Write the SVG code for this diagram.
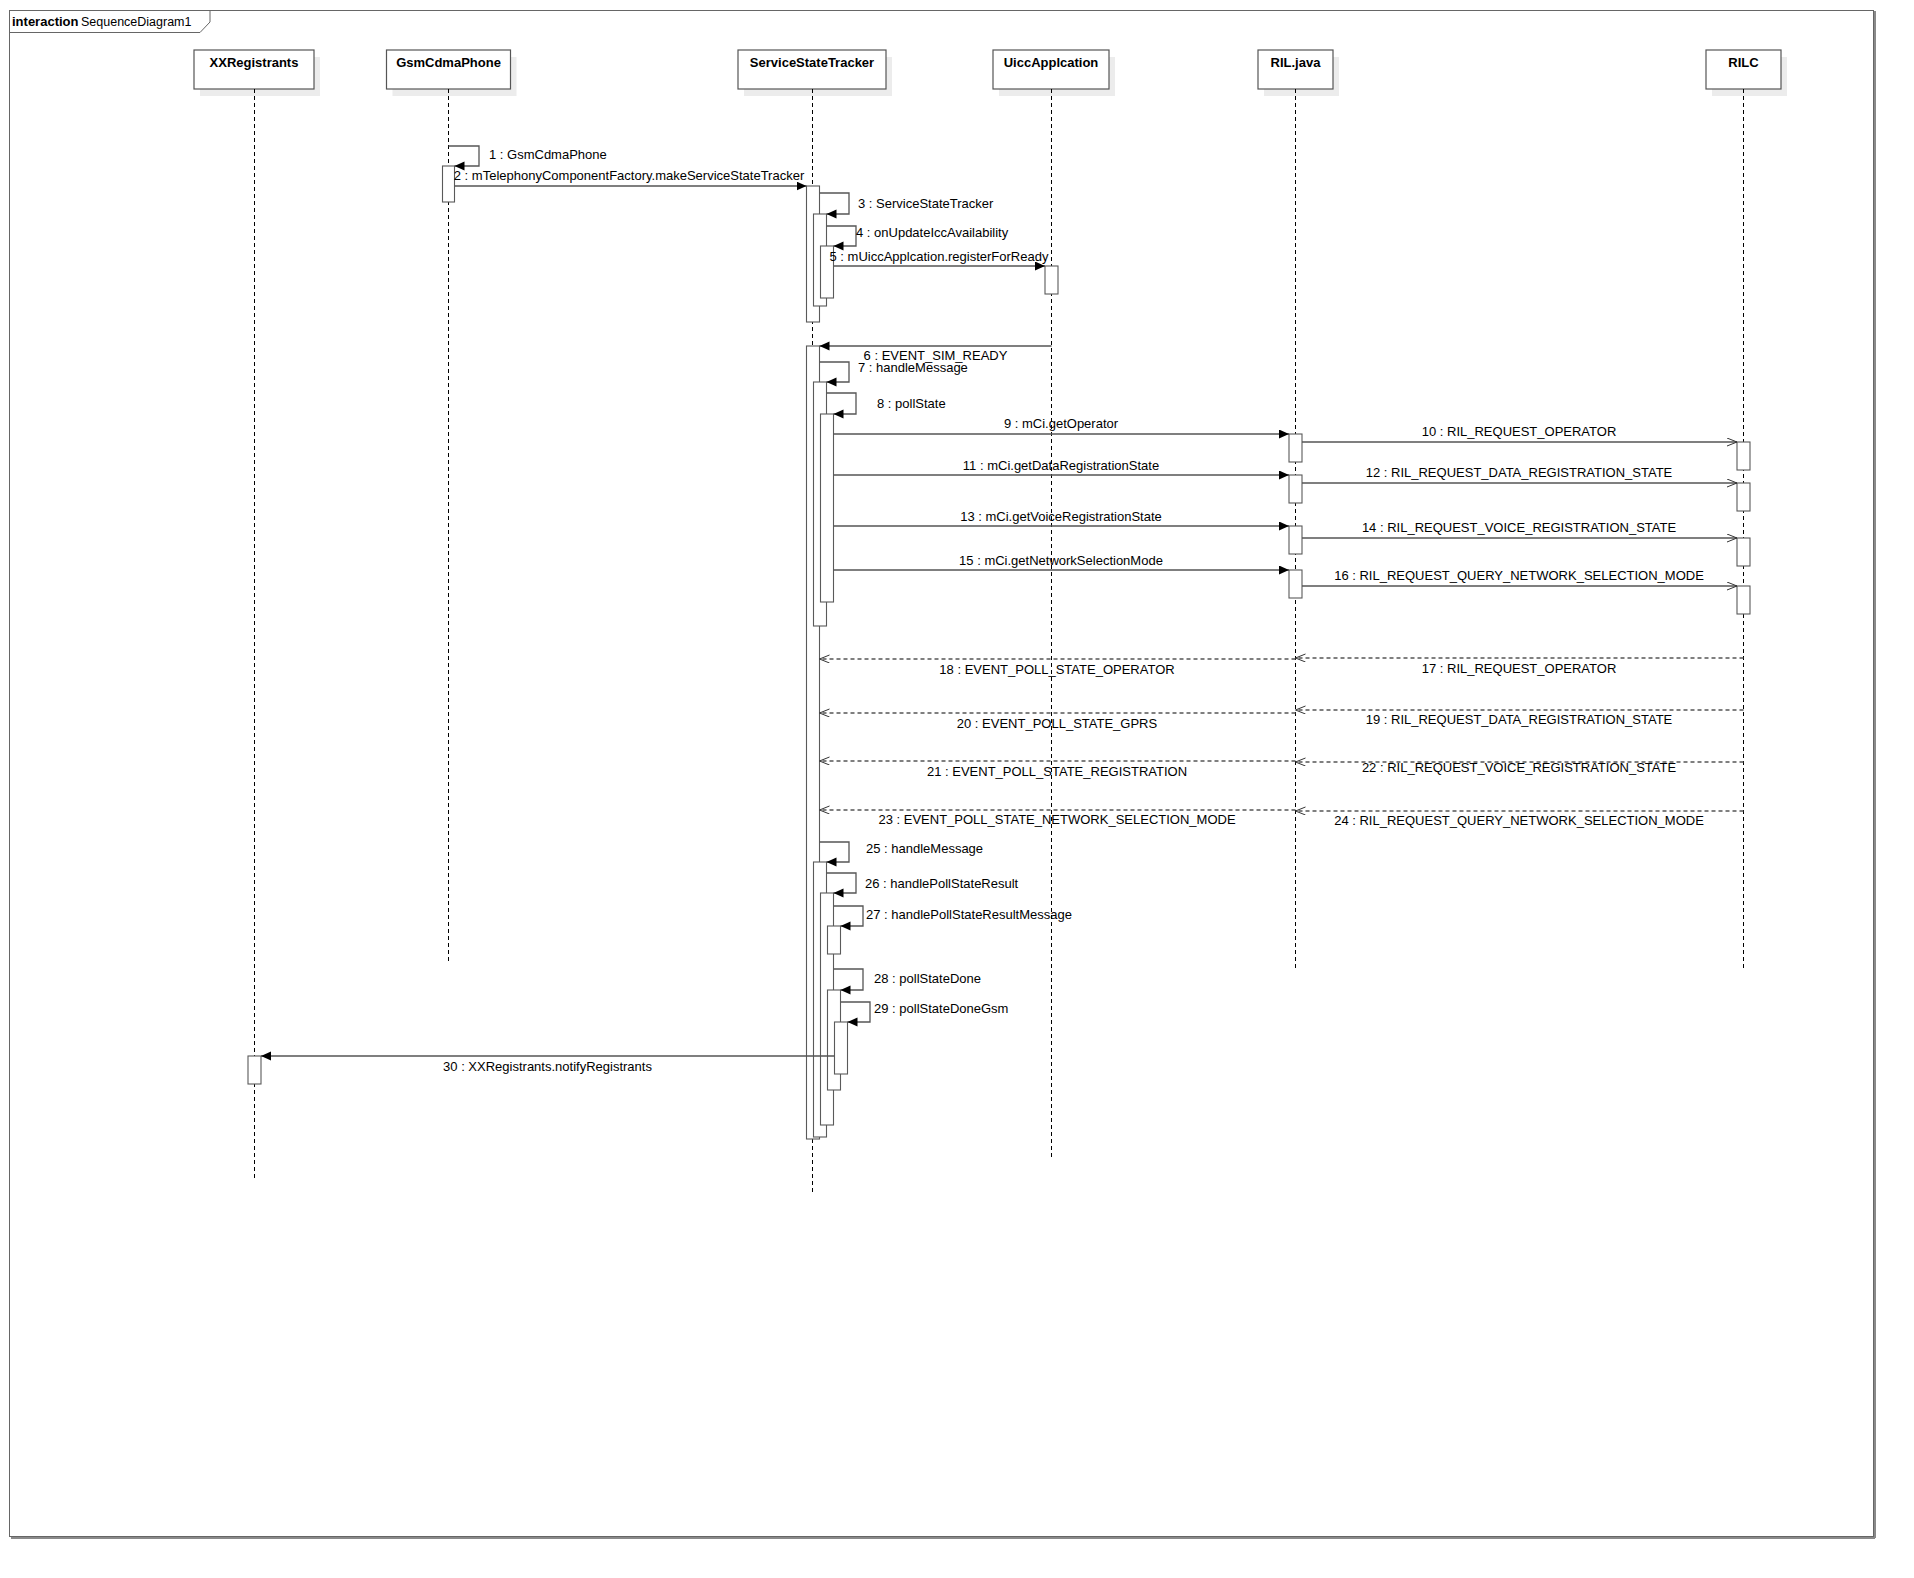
<svg xmlns="http://www.w3.org/2000/svg" width="1914" height="1578" viewBox="0 0 1914 1578">
<style>
text{font-family:"Liberation Sans",Arial,sans-serif;font-size:13px;fill:#000}
.hd{font-weight:bold;text-anchor:middle}
.c{text-anchor:middle}
.box{fill:#fff;stroke:#555;stroke-width:1.2}
.sh{fill:#ececec}
.life{stroke:#000;stroke-width:1;stroke-dasharray:4,3;fill:none}
.act{fill:#fff;stroke:#5a5a5a;stroke-width:1.1}
.msg{fill:none;stroke:#555;stroke-width:1.3}
.sync{marker-end:url(#fa)}
.async{marker-end:url(#oa)}
.ret{stroke-dasharray:4,3;marker-end:url(#oa)}
</style>
<defs>
<marker id="fa" markerUnits="userSpaceOnUse" markerWidth="11" markerHeight="10" refX="10" refY="4.5" orient="auto"><path d="M0,0 L10,4.5 L0,9 z" fill="#000"/></marker>
<marker id="oa" markerUnits="userSpaceOnUse" markerWidth="12" markerHeight="10" refX="10" refY="4" orient="auto"><path d="M0,0 L10,4 L0,8" fill="none" stroke="#333" stroke-width="1"/></marker>
</defs>
<rect width="1914" height="1578" fill="#fff"/>
<g id="frame">
<line x1="11" y1="1538" x2="1875" y2="1538" stroke="#8a8a8a" stroke-width="2"/>
<line x1="1875" y1="11" x2="1875" y2="1538" stroke="#8a8a8a" stroke-width="2"/>
<rect x="9.5" y="10.5" width="1864" height="1526" fill="none" stroke="#666" stroke-width="1"/>
<path d="M9.5,32.5 H200 L210,22 V10.5" fill="none" stroke="#666" stroke-width="1"/>
<text x="12" y="26"><tspan font-weight="bold">interaction</tspan><tspan x="81" font-size="12.5">SequenceDiagram1</tspan></text>
</g>
<g id="XXRegistrants">
<rect class="sh" x="200" y="57" width="120" height="39"/>
<rect class="box" x="194" y="50" width="120" height="39"/>
<text class="hd" x="254" y="67">XXRegistrants</text>
<line class="life" x1="254.5" y1="89" x2="254.5" y2="1178"/>
<rect class="act" x="248" y="1056" width="13" height="28"/>
</g>
<g id="GsmCdmaPhone">
<rect class="sh" x="392.5" y="57" width="124" height="39"/>
<rect class="box" x="386.5" y="50" width="124" height="39"/>
<text class="hd" x="448.5" y="67">GsmCdmaPhone</text>
<line class="life" x1="448.5" y1="89" x2="448.5" y2="962"/>
<rect class="act" x="442.5" y="166" width="12" height="36"/>
</g>
<g id="ServiceStateTracker">
<rect class="sh" x="744" y="57" width="148" height="39"/>
<rect class="box" x="738" y="50" width="148" height="39"/>
<text class="hd" x="812" y="67">ServiceStateTracker</text>
<line class="life" x1="812.5" y1="89" x2="812.5" y2="1192"/>
<rect class="act" x="806.5" y="186" width="13" height="136"/>
<rect class="act" x="813.5" y="214" width="13" height="92"/>
<rect class="act" x="820.5" y="246" width="13" height="52"/>
<rect class="act" x="806.5" y="346" width="13" height="793"/>
<rect class="act" x="813.5" y="382" width="13" height="244"/>
<rect class="act" x="820.5" y="414" width="13" height="188"/>
<rect class="act" x="813.5" y="862" width="13" height="275"/>
<rect class="act" x="820.5" y="893" width="13" height="232"/>
<rect class="act" x="827.5" y="926" width="13" height="28"/>
<rect class="act" x="827.5" y="990" width="13" height="100"/>
<rect class="act" x="834.5" y="1022" width="13" height="52"/>
</g>
<g id="UiccApplcation">
<rect class="sh" x="999" y="57" width="116" height="39"/>
<rect class="box" x="993" y="50" width="116" height="39"/>
<text class="hd" x="1051" y="67">UiccApplcation</text>
<line class="life" x1="1051.5" y1="89" x2="1051.5" y2="1160"/>
<rect class="act" x="1045" y="266" width="13" height="28"/>
</g>
<g id="RIL.java">
<rect class="sh" x="1264" y="57" width="75" height="39"/>
<rect class="box" x="1258" y="50" width="75" height="39"/>
<text class="hd" x="1295.5" y="67">RIL.java</text>
<line class="life" x1="1295.5" y1="89" x2="1295.5" y2="968"/>
<rect class="act" x="1289" y="434" width="13" height="28"/>
<rect class="act" x="1289" y="475" width="13" height="28"/>
<rect class="act" x="1289" y="526" width="13" height="28"/>
<rect class="act" x="1289" y="570" width="13" height="28"/>
</g>
<g id="RILC">
<rect class="sh" x="1712" y="57" width="75" height="39"/>
<rect class="box" x="1706" y="50" width="75" height="39"/>
<text class="hd" x="1743.5" y="67">RILC</text>
<line class="life" x1="1743.5" y1="89" x2="1743.5" y2="968"/>
<rect class="act" x="1737" y="442" width="13" height="28"/>
<rect class="act" x="1737" y="483" width="13" height="28"/>
<rect class="act" x="1737" y="538" width="13" height="28"/>
<rect class="act" x="1737" y="586" width="13" height="28"/>
</g>
<g id="connectors">
<path class="msg sync" d="M448.5,146 H479 V166 H454.5"/>
<text x="489" y="159">1 : GsmCdmaPhone</text>
<path class="msg sync" d="M454.5,186 H806.5"/>
<text class="c" x="629" y="180">2 : mTelephonyComponentFactory.makeServiceStateTracker</text>
<path class="msg sync" d="M819.5,193 H849 V214 H826.5"/>
<text x="858" y="208">3 : ServiceStateTracker</text>
<path class="msg sync" d="M826.5,226 H856 V246 H833.5"/>
<text x="856" y="237">4 : onUpdateIccAvailability</text>
<path class="msg sync" d="M833.5,266 H1045"/>
<text class="c" x="939" y="261">5 : mUiccApplcation.registerForReady</text>
<path class="msg sync" d="M1051.5,346 H819.5"/>
<text class="c" x="935.5" y="360">6 : EVENT_SIM_READY</text>
<path class="msg sync" d="M819.5,362 H849 V382 H826.5"/>
<text x="858" y="372">7 : handleMessage</text>
<path class="msg sync" d="M826.5,393 H856 V414 H833.5"/>
<text x="877" y="408">8 : pollState</text>
<path class="msg sync" d="M833.5,434 H1289"/>
<text class="c" x="1061" y="428">9 : mCi.getOperator</text>
<path class="msg async" d="M1302,442 H1737"/>
<text class="c" x="1519" y="436">10 : RIL_REQUEST_OPERATOR</text>
<path class="msg sync" d="M833.5,475 H1289"/>
<text class="c" x="1061" y="470">11 : mCi.getDataRegistrationState</text>
<path class="msg async" d="M1302,483 H1737"/>
<text class="c" x="1519" y="477">12 : RIL_REQUEST_DATA_REGISTRATION_STATE</text>
<path class="msg sync" d="M833.5,526 H1289"/>
<text class="c" x="1061" y="521">13 : mCi.getVoiceRegistrationState</text>
<path class="msg async" d="M1302,538 H1737"/>
<text class="c" x="1519" y="532">14 : RIL_REQUEST_VOICE_REGISTRATION_STATE</text>
<path class="msg sync" d="M833.5,570 H1289"/>
<text class="c" x="1061" y="565">15 : mCi.getNetworkSelectionMode</text>
<path class="msg async" d="M1302,586 H1737"/>
<text class="c" x="1519" y="580">16 : RIL_REQUEST_QUERY_NETWORK_SELECTION_MODE</text>
<path class="msg ret" d="M1743.5,658 H1295.5"/>
<text class="c" x="1519" y="673">17 : RIL_REQUEST_OPERATOR</text>
<path class="msg ret" d="M1295.5,659 H819.5"/>
<text class="c" x="1057" y="674">18 : EVENT_POLL_STATE_OPERATOR</text>
<path class="msg ret" d="M1743.5,710 H1295.5"/>
<text class="c" x="1519" y="724">19 : RIL_REQUEST_DATA_REGISTRATION_STATE</text>
<path class="msg ret" d="M1295.5,713 H819.5"/>
<text class="c" x="1057" y="728">20 : EVENT_POLL_STATE_GPRS</text>
<path class="msg ret" d="M1295.5,761 H819.5"/>
<text class="c" x="1057" y="776">21 : EVENT_POLL_STATE_REGISTRATION</text>
<path class="msg ret" d="M1743.5,762 H1295.5"/>
<text class="c" x="1519" y="772">22 : RIL_REQUEST_VOICE_REGISTRATION_STATE</text>
<path class="msg ret" d="M1295.5,810 H819.5"/>
<text class="c" x="1057" y="824">23 : EVENT_POLL_STATE_NETWORK_SELECTION_MODE</text>
<path class="msg ret" d="M1743.5,811 H1295.5"/>
<text class="c" x="1519" y="825">24 : RIL_REQUEST_QUERY_NETWORK_SELECTION_MODE</text>
<path class="msg sync" d="M819.5,842 H849 V862 H826.5"/>
<text x="866" y="853">25 : handleMessage</text>
<path class="msg sync" d="M826.5,873 H856 V893 H833.5"/>
<text x="865" y="888">26 : handlePollStateResult</text>
<path class="msg sync" d="M833.5,906 H863 V926 H840.5"/>
<text x="866" y="919">27 : handlePollStateResultMessage</text>
<path class="msg sync" d="M833.5,969 H863 V990 H840.5"/>
<text x="874" y="983">28 : pollStateDone</text>
<path class="msg sync" d="M840.5,1002 H870 V1022 H847.5"/>
<text x="874" y="1013">29 : pollStateDoneGsm</text>
<path class="msg sync" d="M834.5,1056 H261"/>
<text class="c" x="547.5" y="1071">30 : XXRegistrants.notifyRegistrants</text>
</g>
</svg>
